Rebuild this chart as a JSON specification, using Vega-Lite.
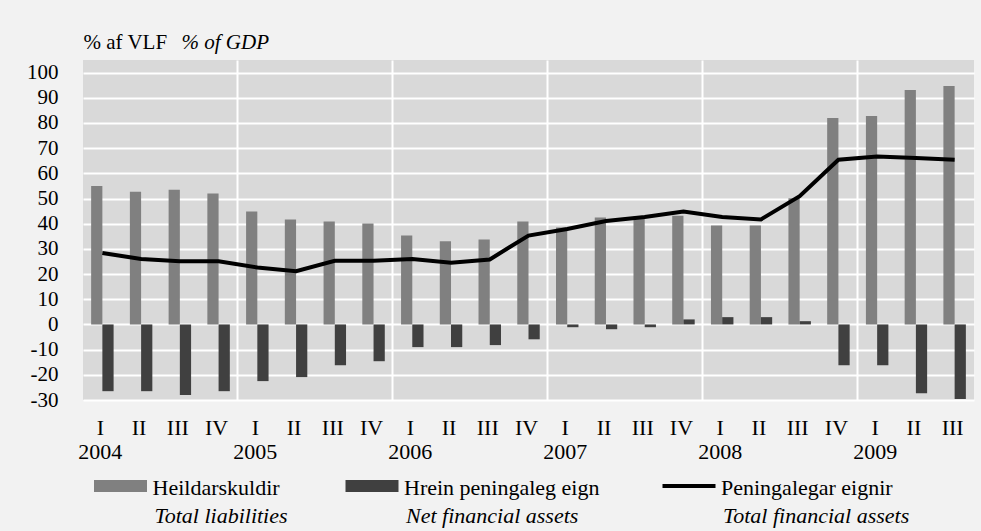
{
  "$schema": "https://vega.github.io/schema/vega-lite/v6.json",
  "background": "#f2f2f2",
  "padding": {"left": 26, "top": 31, "right": 8, "bottom": 10},
  "config": {
    "font": "Liberation Serif",
    "text": {"font": "Liberation Serif", "fontSize": 21, "color": "black"}
  },
  "datasets": {
    "bars": [
      {"q": "2004-I", "series": "Heildarskuldir", "value": 55},
      {"q": "2004-II", "series": "Heildarskuldir", "value": 52.7},
      {"q": "2004-III", "series": "Heildarskuldir", "value": 53.5},
      {"q": "2004-IV", "series": "Heildarskuldir", "value": 52},
      {"q": "2005-I", "series": "Heildarskuldir", "value": 44.8},
      {"q": "2005-II", "series": "Heildarskuldir", "value": 41.7},
      {"q": "2005-III", "series": "Heildarskuldir", "value": 40.9},
      {"q": "2005-IV", "series": "Heildarskuldir", "value": 40.1},
      {"q": "2006-I", "series": "Heildarskuldir", "value": 35.3},
      {"q": "2006-II", "series": "Heildarskuldir", "value": 33},
      {"q": "2006-III", "series": "Heildarskuldir", "value": 33.7},
      {"q": "2006-IV", "series": "Heildarskuldir", "value": 40.9},
      {"q": "2007-I", "series": "Heildarskuldir", "value": 38.5},
      {"q": "2007-II", "series": "Heildarskuldir", "value": 42.5},
      {"q": "2007-III", "series": "Heildarskuldir", "value": 43},
      {"q": "2007-IV", "series": "Heildarskuldir", "value": 43.2},
      {"q": "2008-I", "series": "Heildarskuldir", "value": 39.3},
      {"q": "2008-II", "series": "Heildarskuldir", "value": 39.3},
      {"q": "2008-III", "series": "Heildarskuldir", "value": 50.1},
      {"q": "2008-IV", "series": "Heildarskuldir", "value": 82},
      {"q": "2009-I", "series": "Heildarskuldir", "value": 82.8},
      {"q": "2009-II", "series": "Heildarskuldir", "value": 93.1},
      {"q": "2009-III", "series": "Heildarskuldir", "value": 94.7},
      {"q": "2004-I", "series": "Hrein peningaleg eign", "value": -26.5},
      {"q": "2004-II", "series": "Hrein peningaleg eign", "value": -26.5},
      {"q": "2004-III", "series": "Hrein peningaleg eign", "value": -28},
      {"q": "2004-IV", "series": "Hrein peningaleg eign", "value": -26.5},
      {"q": "2005-I", "series": "Hrein peningaleg eign", "value": -22.5},
      {"q": "2005-II", "series": "Hrein peningaleg eign", "value": -20.9},
      {"q": "2005-III", "series": "Hrein peningaleg eign", "value": -16.2},
      {"q": "2005-IV", "series": "Hrein peningaleg eign", "value": -14.6},
      {"q": "2006-I", "series": "Hrein peningaleg eign", "value": -9},
      {"q": "2006-II", "series": "Hrein peningaleg eign", "value": -9},
      {"q": "2006-III", "series": "Hrein peningaleg eign", "value": -8.2},
      {"q": "2006-IV", "series": "Hrein peningaleg eign", "value": -5.9},
      {"q": "2007-I", "series": "Hrein peningaleg eign", "value": -1.1},
      {"q": "2007-II", "series": "Hrein peningaleg eign", "value": -1.9},
      {"q": "2007-III", "series": "Hrein peningaleg eign", "value": -1.1},
      {"q": "2007-IV", "series": "Hrein peningaleg eign", "value": 2},
      {"q": "2008-I", "series": "Hrein peningaleg eign", "value": 2.9},
      {"q": "2008-II", "series": "Hrein peningaleg eign", "value": 2.9},
      {"q": "2008-III", "series": "Hrein peningaleg eign", "value": 1.3},
      {"q": "2008-IV", "series": "Hrein peningaleg eign", "value": -16.2},
      {"q": "2009-I", "series": "Hrein peningaleg eign", "value": -16.2},
      {"q": "2009-II", "series": "Hrein peningaleg eign", "value": -27.3},
      {"q": "2009-III", "series": "Hrein peningaleg eign", "value": -29.6}
    ],
    "line": [
      {"q": "2004-I", "value": 28.4},
      {"q": "2004-II", "value": 26},
      {"q": "2004-III", "value": 25.1},
      {"q": "2004-IV", "value": 25.1},
      {"q": "2005-I", "value": 22.6},
      {"q": "2005-II", "value": 21.1},
      {"q": "2005-III", "value": 25.3},
      {"q": "2005-IV", "value": 25.3},
      {"q": "2006-I", "value": 26},
      {"q": "2006-II", "value": 24.5},
      {"q": "2006-III", "value": 25.8},
      {"q": "2006-IV", "value": 35.3},
      {"q": "2007-I", "value": 37.9},
      {"q": "2007-II", "value": 41.1},
      {"q": "2007-III", "value": 42.7},
      {"q": "2007-IV", "value": 44.8},
      {"q": "2008-I", "value": 42.7},
      {"q": "2008-II", "value": 41.7},
      {"q": "2008-III", "value": 50.9},
      {"q": "2008-IV", "value": 65.4},
      {"q": "2009-I", "value": 66.7},
      {"q": "2009-II", "value": 66.1},
      {"q": "2009-III", "value": 65.4}
    ],
    "legend": [
      {"item": 1, "kind": "bar", "label": "Heildarskuldir", "label_en": "Total liabilities"},
      {"item": 2, "kind": "bar", "label": "Hrein peningaleg eign", "label_en": "Net financial assets"},
      {"item": 3, "kind": "line", "label": "Peningalegar eignir", "label_en": "Total financial assets"}
    ]
  },
  "spacing": 14,
  "resolve": {"scale": {"color": "independent", "x": "independent"}},
  "vconcat": [
    {
      "width": 891,
      "height": 340,
      "view": {"fill": "#d9d9d9", "stroke": null},
      "layer": [
        {
          "layer": [
            {
              "data": {"name": "bars"},
              "mark": {"type": "bar"},
              "encoding": {
                "x": {
                  "field": "q",
                  "type": "nominal",
                  "sort": null,
                  "scale": {
                    "domain": ["2004-I","2004-II","2004-III","2004-IV","2005-I","2005-II","2005-III","2005-IV","2006-I","2006-II","2006-III","2006-IV","2007-I","2007-II","2007-III","2007-IV","2008-I","2008-II","2008-III","2008-IV","2009-I","2009-II","2009-III"],
                    "paddingInner": 0.42,
                    "paddingOuter": 0.21
                  },
                  "axis": {
                    "title": null,
                    "labelAngle": 0,
                    "labelExpr": "split(datum.value,'-')[1] == 'I' ? ['I', split(datum.value,'-')[0]] : split(datum.value,'-')[1]",
                    "labelFont": "Liberation Serif",
                    "labelFontSize": 22,
                    "labelColor": "black",
                    "labelPadding": 17,
                    "labelLineHeight": 24,
                    "labelBaseline": "top",
                    "labelOverlap": false,
                    "labelOffset": -2,
                    "ticks": false,
                    "domain": false,
                    "bandPosition": 1.3621,
                    "grid": true,
                    "gridColor": "white",
                    "gridWidth": 2,
                    "gridOpacity": {"condition": {"test": "split(datum.value,'-')[1] == 'IV'", "value": 1}, "value": 0}
                  }
                },
                "xOffset": {
                  "field": "series",
                  "type": "nominal",
                  "scale": {"domain": ["Heildarskuldir", "Hrein peningaleg eign"], "paddingInner": 0}
                },
                "y": {
                  "field": "value",
                  "type": "quantitative",
                  "scale": {"domain": [-30, 105], "nice": false, "zero": false},
                  "axis": {
                    "title": "% af VLF",
                    "titleAngle": 0,
                    "titleAlign": "left",
                    "titleBaseline": "alphabetic",
                    "titleX": 0,
                    "titleY": -12,
                    "titleFont": "Liberation Serif",
                    "titleFontSize": 21,
                    "titleFontWeight": "normal",
                    "titleColor": "black",
                    "values": [-30, -20, -10, 0, 10, 20, 30, 40, 50, 60, 70, 80, 90, 100],
                    "tickCount": 30,
                    "labelExpr": "datum.value + ''",
                    "labelFont": "Liberation Serif",
                    "labelFontSize": 21,
                    "labelColor": "black",
                    "labelPadding": 25,
                    "labelOverlap": false,
                    "ticks": false,
                    "tickSize": 0,
                    "domain": false,
                    "grid": true,
                    "gridColor": "white",
                    "gridWidth": 2
                  }
                },
                "color": {
                  "field": "series",
                  "type": "nominal",
                  "scale": {"domain": ["Heildarskuldir", "Hrein peningaleg eign"], "range": ["#808080", "#404040"]},
                  "legend": null
                }
              }
            },
            {
              "mark": {"type": "rule", "color": "#878787", "strokeWidth": 2},
              "encoding": {"y": {"datum": 0, "type": "quantitative"}}
            }
          ]
        },
        {
          "data": {"name": "line"},
          "mark": {"type": "line", "color": "black", "strokeWidth": 4},
          "encoding": {
            "x": {"field": "q", "type": "nominal", "sort": null},
            "y": {
              "field": "value",
              "type": "quantitative",
              "scale": {"domain": [-30, 105], "nice": false, "zero": false},
              "axis": {
                "orient": "right",
                "title": "% of GDP",
                "titleAngle": 0,
                "titleAlign": "left",
                "titleBaseline": "alphabetic",
                "titleX": -793,
                "titleY": -12,
                "titleFont": "Liberation Serif",
                "titleFontSize": 21,
                "titleFontWeight": "normal",
                "titleFontStyle": "italic",
                "titleColor": "black",
                "labels": false,
                "ticks": false,
                "domain": false,
                "grid": false
              }
            }
          }
        }
      ],
      "resolve": {"scale": {"y": "independent"}}
    },
    {
      "width": 891,
      "height": 20,
      "view": {"stroke": null},
      "data": {"name": "legend"},
      "encoding": {
        "x": {"field": "item", "type": "quantitative", "scale": {"domain": [1, 2, 3], "range": [37.5, 289, 606], "nice": false, "zero": false}, "axis": null}
      },
      "layer": [
        {
          "mark": {"type": "point", "filled": true, "opacity": 1, "strokeWidth": 0, "size": 2809},
          "encoding": {
            "shape": {"field": "kind", "type": "nominal", "scale": {"domain": ["bar", "line"], "range": ["M-1,-0.23H1V0.23H-1Z", "M-1,-0.08H1V0.08H-1Z"]}, "legend": null},
            "color": {"field": "label", "type": "nominal", "scale": {"domain": ["Heildarskuldir", "Hrein peningaleg eign", "Peningalegar eignir"], "range": ["#808080", "#404040", "#000000"]}, "legend": null}
          }
        },
        {
          "mark": {"type": "text", "align": "left", "baseline": "middle", "dx": 32, "dy": 2, "fontSize": 22, "font": "Liberation Serif", "color": "black"},
          "encoding": {"text": {"field": "label"}}
        },
        {
          "mark": {"type": "text", "align": "left", "baseline": "middle", "dx": 34, "dy": 30, "fontSize": 22, "font": "Liberation Serif", "fontStyle": "italic", "color": "black"},
          "encoding": {"text": {"field": "label_en"}}
        }
      ]
    }
  ]
}
